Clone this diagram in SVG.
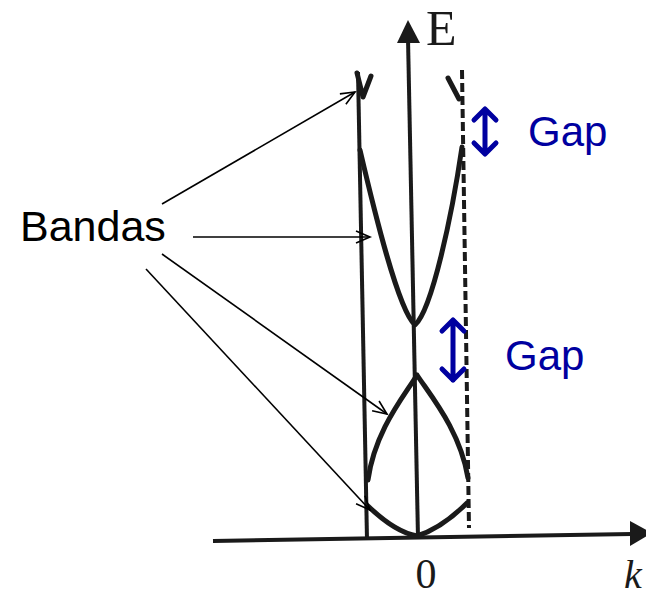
<svg xmlns="http://www.w3.org/2000/svg" width="646" height="596" viewBox="0 0 646 596">
  <defs>
    <style>
      .band { fill: none; stroke: #1a1a1a; stroke-width: 5; stroke-linecap: round; stroke-linejoin: round; }
      .axis { fill: none; stroke: #1a1a1a; stroke-width: 4; }
      .edge { fill: none; stroke: #1a1a1a; stroke-width: 4; }
      .dash { fill: none; stroke: #1a1a1a; stroke-width: 4; stroke-dasharray: 9 4; }
      .conn { fill: none; stroke: #000; stroke-width: 1.6; }
      .gaparrow { fill: none; stroke: #0000A0; stroke-width: 5; stroke-linecap: round; stroke-linejoin: round; }
      .gaptext { font-family: "Liberation Sans", Arial, sans-serif; font-size: 42px; fill: #0000A0; }
      .label { font-family: "Liberation Sans", Arial, sans-serif; font-size: 43px; fill: #000; }
      .serif { font-family: "Liberation Serif", "Times New Roman", serif; fill: #1a1a1a; }
    </style>
    <marker id="open" markerUnits="userSpaceOnUse" markerWidth="18" markerHeight="16" refX="15" refY="7" orient="auto">
      <path d="M1,1 L15,7 L1,13" fill="none" stroke="#000" stroke-width="1.6"/>
    </marker>
  </defs>
  <rect width="646" height="596" fill="#ffffff"/>

  <g id="axes">
    <line class="axis" x1="213" y1="541" x2="632" y2="534"/>
    <polygon points="630,521 652,533 630,546" fill="#1a1a1a"/>
    <line class="axis" x1="418" y1="538" x2="408" y2="38"/>
    <polygon points="397,43 408,20 420,43" fill="#1a1a1a"/>
    <line class="edge" x1="358" y1="72" x2="367" y2="540"/>
    <line class="dash" x1="462" y1="70" x2="469" y2="528"/>
    <text class="serif" x="426" y="45" font-size="50">E</text>
    <text class="serif" x="426" y="588" font-size="42" text-anchor="middle">0</text>
    <text class="serif" x="624" y="588" font-size="40" font-style="italic">k</text>
  </g>

  <g id="bands">
    <path class="band" d="M357,73 L363,97 L371,76"/>
    <path class="band" d="M448,78 L459,99"/>
    <path class="band" d="M360,150 C374,210 398,310 415,325 C432,310 452,215 462,147"/>
    <path class="band" d="M368,480 C375,430 405,395 417,375 C430,395 460,430 468,478"/>
    <path class="band" d="M368,506 Q395,532 417,536 Q442,528 467,503"/>
  </g>

  <g id="bandas-label">
    <text class="label" x="20" y="241">Bandas</text>
  </g>

  <g id="gap-upper">
    <path class="gaparrow" d="M485,110 L485,153 M474,120 L485,109 L496,120 M474,143 L485,154 L496,143"/>
    <text class="gaptext" x="528" y="146">Gap</text>
  </g>

  <g id="gap-lower">
    <path class="gaparrow" d="M453,320 L453,380 M442,331 L453,320 L464,331 M442,369 L453,380 L464,369"/>
    <text class="gaptext" x="505" y="370">Gap</text>
  </g>

  <g id="connectors">
    <line class="conn" x1="162" y1="204" x2="355" y2="92" marker-end="url(#open)"/>
    <line class="conn" x1="193" y1="237" x2="370" y2="237" marker-end="url(#open)"/>
    <line class="conn" x1="162" y1="254" x2="387" y2="414" marker-end="url(#open)"/>
    <line class="conn" x1="146" y1="269" x2="370" y2="510" marker-end="url(#open)"/>
  </g>
</svg>
